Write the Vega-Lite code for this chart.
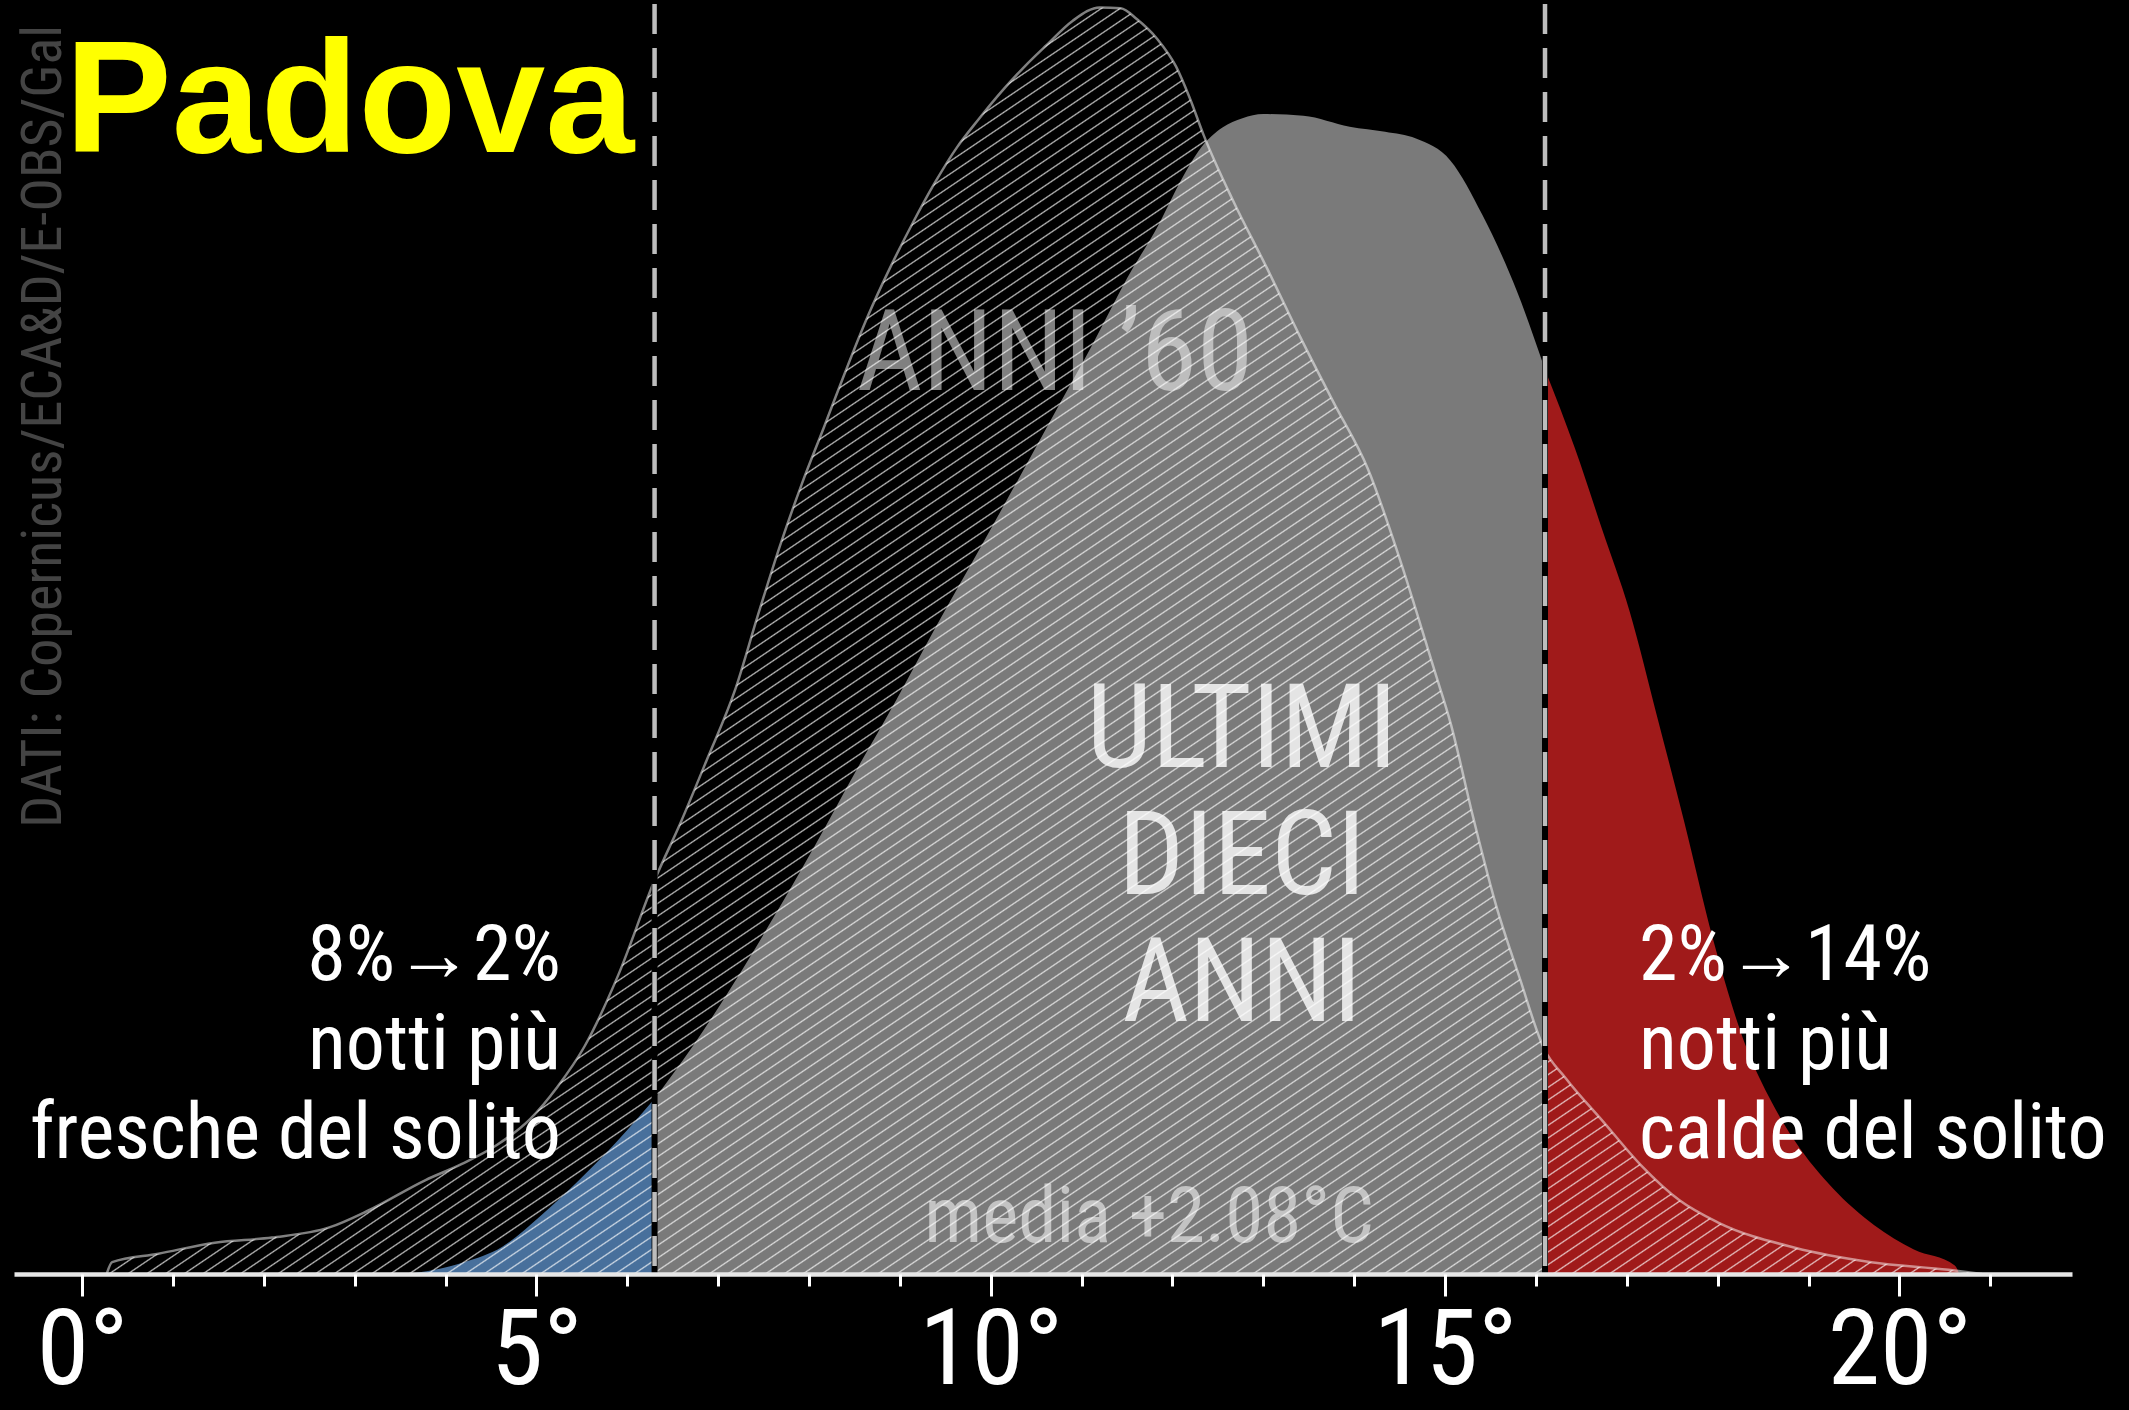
{
  "$schema": "https://vega.github.io/schema/vega-lite/v6.json",
  "width": 2058,
  "height": 1270,
  "autosize": {"type": "none"},
  "padding": {"left": 14, "top": 4, "right": 57, "bottom": 136},
  "background": "black",
  "config": {"view": {"stroke": null}},
  "datasets": {
    "anni60": [
      {"temp": 0.27, "dens": 0}, {"temp": 0.33, "dens": 0.14}, {"temp": 0.84, "dens": 0.24}, {"temp": 1.46, "dens": 0.37},
      {"temp": 2.09, "dens": 0.43}, {"temp": 2.72, "dens": 0.55}, {"temp": 3.15, "dens": 0.75}, {"temp": 3.78, "dens": 1.11},
      {"temp": 4.18, "dens": 1.30}, {"temp": 4.56, "dens": 1.52}, {"temp": 4.93, "dens": 1.83}, {"temp": 5.23, "dens": 2.21},
      {"temp": 5.53, "dens": 2.69}, {"temp": 5.90, "dens": 3.53}, {"temp": 6.30, "dens": 4.65}, {"temp": 6.59, "dens": 5.34},
      {"temp": 6.87, "dens": 6.06}, {"temp": 7.19, "dens": 6.91}, {"temp": 7.44, "dens": 7.79}, {"temp": 7.68, "dens": 8.60},
      {"temp": 7.92, "dens": 9.33}, {"temp": 8.16, "dens": 9.99}, {"temp": 8.39, "dens": 10.63}, {"temp": 8.65, "dens": 11.32},
      {"temp": 8.89, "dens": 11.88}, {"temp": 9.14, "dens": 12.41}, {"temp": 9.38, "dens": 12.88}, {"temp": 9.63, "dens": 13.31},
      {"temp": 9.86, "dens": 13.63}, {"temp": 10.13, "dens": 13.98}, {"temp": 10.38, "dens": 14.27}, {"temp": 10.61, "dens": 14.51},
      {"temp": 10.90, "dens": 14.80}, {"temp": 11.20, "dens": 14.96}, {"temp": 11.43, "dens": 14.95}, {"temp": 11.61, "dens": 14.82},
      {"temp": 11.83, "dens": 14.59}, {"temp": 12.04, "dens": 14.26}, {"temp": 12.19, "dens": 13.89}, {"temp": 12.34, "dens": 13.46},
      {"temp": 12.67, "dens": 12.67}, {"temp": 13.04, "dens": 11.88}, {"temp": 13.40, "dens": 11.08}, {"temp": 13.77, "dens": 10.30},
      {"temp": 14.15, "dens": 9.51}, {"temp": 14.50, "dens": 8.45}, {"temp": 14.88, "dens": 7.14}, {"temp": 15.06, "dens": 6.51},
      {"temp": 15.31, "dens": 5.39}, {"temp": 15.56, "dens": 4.36}, {"temp": 15.82, "dens": 3.50}, {"temp": 16.09, "dens": 2.66},
      {"temp": 16.33, "dens": 2.31}, {"temp": 16.74, "dens": 1.80}, {"temp": 17.16, "dens": 1.28}, {"temp": 17.58, "dens": 0.87},
      {"temp": 18.00, "dens": 0.61}, {"temp": 18.85, "dens": 0.31}, {"temp": 19.69, "dens": 0.14}, {"temp": 20.54, "dens": 0.05},
      {"temp": 20.91, "dens": 0}
    ],
    "recenti": [
      {"parte": "fresche", "temp": 3.56, "dens": 0}, {"parte": "fresche", "temp": 3.88, "dens": 0.05},
      {"parte": "fresche", "temp": 4.20, "dens": 0.14}, {"parte": "fresche", "temp": 4.62, "dens": 0.32},
      {"parte": "fresche", "temp": 5.05, "dens": 0.69}, {"parte": "fresche", "temp": 5.47, "dens": 1.11},
      {"parte": "fresche", "temp": 5.89, "dens": 1.57}, {"parte": "fresche", "temp": 6.30, "dens": 2.07},
      {"parte": "norma", "temp": 6.30, "dens": 2.07}, {"parte": "norma", "temp": 6.72, "dens": 2.69},
      {"parte": "norma", "temp": 7.17, "dens": 3.43}, {"parte": "norma", "temp": 7.62, "dens": 4.23},
      {"parte": "norma", "temp": 8.07, "dens": 5.07}, {"parte": "norma", "temp": 8.51, "dens": 5.93},
      {"parte": "norma", "temp": 8.96, "dens": 6.78}, {"parte": "norma", "temp": 9.41, "dens": 7.67},
      {"parte": "norma", "temp": 9.86, "dens": 8.53}, {"parte": "norma", "temp": 10.31, "dens": 9.40},
      {"parte": "norma", "temp": 10.75, "dens": 10.26}, {"parte": "norma", "temp": 11.13, "dens": 11.00},
      {"parte": "norma", "temp": 11.50, "dens": 11.76}, {"parte": "norma", "temp": 11.85, "dens": 12.40},
      {"parte": "norma", "temp": 12.10, "dens": 12.93}, {"parte": "norma", "temp": 12.32, "dens": 13.31},
      {"parte": "norma", "temp": 12.55, "dens": 13.54}, {"parte": "norma", "temp": 12.77, "dens": 13.65},
      {"parte": "norma", "temp": 13.00, "dens": 13.70}, {"parte": "norma", "temp": 13.44, "dens": 13.68},
      {"parte": "norma", "temp": 13.95, "dens": 13.55}, {"parte": "norma", "temp": 14.34, "dens": 13.49},
      {"parte": "norma", "temp": 14.68, "dens": 13.41}, {"parte": "norma", "temp": 15.06, "dens": 13.15},
      {"parte": "norma", "temp": 15.41, "dens": 12.51}, {"parte": "norma", "temp": 15.79, "dens": 11.61},
      {"parte": "norma", "temp": 16.10, "dens": 10.68},
      {"parte": "calde", "temp": 16.10, "dens": 10.68}, {"parte": "calde", "temp": 16.43, "dens": 9.75},
      {"parte": "calde", "temp": 16.73, "dens": 8.79}, {"parte": "calde", "temp": 17.03, "dens": 7.83},
      {"parte": "calde", "temp": 17.33, "dens": 6.60}, {"parte": "calde", "temp": 17.63, "dens": 5.35},
      {"parte": "calde", "temp": 17.95, "dens": 3.95}, {"parte": "calde", "temp": 18.30, "dens": 2.72},
      {"parte": "calde", "temp": 18.60, "dens": 2.02}, {"parte": "calde", "temp": 18.85, "dens": 1.57},
      {"parte": "calde", "temp": 19.27, "dens": 1.01}, {"parte": "calde", "temp": 19.72, "dens": 0.58},
      {"parte": "calde", "temp": 20.16, "dens": 0.29}, {"parte": "calde", "temp": 20.61, "dens": 0.10},
      {"parte": "calde", "temp": 20.66, "dens": 0}
    ],
    "soglie": [{"temp": 6.3}, {"temp": 16.1}]
  },
  "layer": [
    {
      "data": {"name": "recenti"},
      "mark": {"type": "area", "interpolate": "monotone"},
      "encoding": {
        "x": {
          "field": "temp", "type": "quantitative",
          "scale": {"domain": [-0.75, 21.9], "nice": false, "zero": false},
          "axis": {
            "orient": "bottom", "values": [0, 5, 10, 15, 20], "labelExpr": "datum.value + '°'",
            "tickSize": 22, "tickWidth": 3, "tickColor": "white",
            "domain": true, "domainColor": "#e6e6e6", "domainWidth": 4.5,
            "labelFont": "Roboto Condensed, Roboto", "labelFontSize": 106, "labelColor": "white",
            "labelPadding": 3, "labelFlush": false, "labelOverlap": false,
            "grid": false, "title": null, "zindex": 1
          }
        },
        "y": {"field": "dens", "type": "quantitative", "stack": null, "scale": {"domain": [0, 15], "nice": false}, "axis": null},
        "color": {
          "field": "parte", "type": "nominal",
          "scale": {"domain": ["fresche", "norma", "calde"], "range": ["#48709c", "#7a7a7a", "#a01a1a"]},
          "legend": null
        }
      }
    },
    {
      "data": {"name": "anni60"},
      "mark": {
        "type": "area", "interpolate": "monotone",
        "color": {
          "gradient": "linear", "x1": 0, "y1": 0, "x2": 1, "y2": 1,
          "stops": [
{"offset":0,"color":"#fff0"},{"offset":0.0006,"color":"#fffb"},{"offset":0.0012,"color":"#fff0"},
{"offset":0.005,"color":"#fff0"},{"offset":0.0056,"color":"#fffb"},{"offset":0.0062,"color":"#fff0"},
{"offset":0.01,"color":"#fff0"},{"offset":0.0106,"color":"#fffb"},{"offset":0.0112,"color":"#fff0"},
{"offset":0.015,"color":"#fff0"},{"offset":0.0156,"color":"#fffb"},{"offset":0.0162,"color":"#fff0"},
{"offset":0.02,"color":"#fff0"},{"offset":0.0206,"color":"#fffb"},{"offset":0.0212,"color":"#fff0"},
{"offset":0.025,"color":"#fff0"},{"offset":0.0256,"color":"#fffb"},{"offset":0.0262,"color":"#fff0"},
{"offset":0.03,"color":"#fff0"},{"offset":0.0306,"color":"#fffb"},{"offset":0.0312,"color":"#fff0"},
{"offset":0.035,"color":"#fff0"},{"offset":0.0356,"color":"#fffb"},{"offset":0.0362,"color":"#fff0"},
{"offset":0.04,"color":"#fff0"},{"offset":0.0406,"color":"#fffb"},{"offset":0.0412,"color":"#fff0"},
{"offset":0.045,"color":"#fff0"},{"offset":0.0456,"color":"#fffb"},{"offset":0.0462,"color":"#fff0"},
{"offset":0.05,"color":"#fff0"},{"offset":0.0506,"color":"#fffb"},{"offset":0.0512,"color":"#fff0"},
{"offset":0.055,"color":"#fff0"},{"offset":0.0556,"color":"#fffb"},{"offset":0.0562,"color":"#fff0"},
{"offset":0.06,"color":"#fff0"},{"offset":0.0606,"color":"#fffb"},{"offset":0.0612,"color":"#fff0"},
{"offset":0.065,"color":"#fff0"},{"offset":0.0656,"color":"#fffb"},{"offset":0.0662,"color":"#fff0"},
{"offset":0.07,"color":"#fff0"},{"offset":0.0706,"color":"#fffb"},{"offset":0.0712,"color":"#fff0"},
{"offset":0.075,"color":"#fff0"},{"offset":0.0756,"color":"#fffb"},{"offset":0.0762,"color":"#fff0"},
{"offset":0.08,"color":"#fff0"},{"offset":0.0806,"color":"#fffb"},{"offset":0.0812,"color":"#fff0"},
{"offset":0.085,"color":"#fff0"},{"offset":0.0856,"color":"#fffb"},{"offset":0.0862,"color":"#fff0"},
{"offset":0.09,"color":"#fff0"},{"offset":0.0906,"color":"#fffb"},{"offset":0.0912,"color":"#fff0"},
{"offset":0.095,"color":"#fff0"},{"offset":0.0956,"color":"#fffb"},{"offset":0.0962,"color":"#fff0"},
{"offset":0.1,"color":"#fff0"},{"offset":0.1006,"color":"#fffb"},{"offset":0.1012,"color":"#fff0"},
{"offset":0.105,"color":"#fff0"},{"offset":0.1056,"color":"#fffb"},{"offset":0.1062,"color":"#fff0"},
{"offset":0.11,"color":"#fff0"},{"offset":0.1106,"color":"#fffb"},{"offset":0.1112,"color":"#fff0"},
{"offset":0.115,"color":"#fff0"},{"offset":0.1156,"color":"#fffb"},{"offset":0.1162,"color":"#fff0"},
{"offset":0.12,"color":"#fff0"},{"offset":0.1206,"color":"#fffb"},{"offset":0.1212,"color":"#fff0"},
{"offset":0.125,"color":"#fff0"},{"offset":0.1256,"color":"#fffb"},{"offset":0.1262,"color":"#fff0"},
{"offset":0.13,"color":"#fff0"},{"offset":0.1306,"color":"#fffb"},{"offset":0.1312,"color":"#fff0"},
{"offset":0.135,"color":"#fff0"},{"offset":0.1356,"color":"#fffb"},{"offset":0.1362,"color":"#fff0"},
{"offset":0.14,"color":"#fff0"},{"offset":0.1406,"color":"#fffb"},{"offset":0.1412,"color":"#fff0"},
{"offset":0.145,"color":"#fff0"},{"offset":0.1456,"color":"#fffb"},{"offset":0.1462,"color":"#fff0"},
{"offset":0.15,"color":"#fff0"},{"offset":0.1506,"color":"#fffb"},{"offset":0.1512,"color":"#fff0"},
{"offset":0.155,"color":"#fff0"},{"offset":0.1556,"color":"#fffb"},{"offset":0.1562,"color":"#fff0"},
{"offset":0.16,"color":"#fff0"},{"offset":0.1606,"color":"#fffb"},{"offset":0.1612,"color":"#fff0"},
{"offset":0.165,"color":"#fff0"},{"offset":0.1656,"color":"#fffb"},{"offset":0.1662,"color":"#fff0"},
{"offset":0.17,"color":"#fff0"},{"offset":0.1706,"color":"#fffb"},{"offset":0.1712,"color":"#fff0"},
{"offset":0.175,"color":"#fff0"},{"offset":0.1756,"color":"#fffb"},{"offset":0.1762,"color":"#fff0"},
{"offset":0.18,"color":"#fff0"},{"offset":0.1806,"color":"#fffb"},{"offset":0.1812,"color":"#fff0"},
{"offset":0.185,"color":"#fff0"},{"offset":0.1856,"color":"#fffb"},{"offset":0.1862,"color":"#fff0"},
{"offset":0.19,"color":"#fff0"},{"offset":0.1906,"color":"#fffb"},{"offset":0.1912,"color":"#fff0"},
{"offset":0.195,"color":"#fff0"},{"offset":0.1956,"color":"#fffb"},{"offset":0.1962,"color":"#fff0"},
{"offset":0.2,"color":"#fff0"},{"offset":0.2006,"color":"#fffb"},{"offset":0.2012,"color":"#fff0"},
{"offset":0.205,"color":"#fff0"},{"offset":0.2056,"color":"#fffb"},{"offset":0.2062,"color":"#fff0"},
{"offset":0.21,"color":"#fff0"},{"offset":0.2106,"color":"#fffb"},{"offset":0.2112,"color":"#fff0"},
{"offset":0.215,"color":"#fff0"},{"offset":0.2156,"color":"#fffb"},{"offset":0.2162,"color":"#fff0"},
{"offset":0.22,"color":"#fff0"},{"offset":0.2206,"color":"#fffb"},{"offset":0.2212,"color":"#fff0"},
{"offset":0.225,"color":"#fff0"},{"offset":0.2256,"color":"#fffb"},{"offset":0.2262,"color":"#fff0"},
{"offset":0.23,"color":"#fff0"},{"offset":0.2306,"color":"#fffb"},{"offset":0.2312,"color":"#fff0"},
{"offset":0.235,"color":"#fff0"},{"offset":0.2356,"color":"#fffb"},{"offset":0.2362,"color":"#fff0"},
{"offset":0.24,"color":"#fff0"},{"offset":0.2406,"color":"#fffb"},{"offset":0.2412,"color":"#fff0"},
{"offset":0.245,"color":"#fff0"},{"offset":0.2456,"color":"#fffb"},{"offset":0.2462,"color":"#fff0"},
{"offset":0.25,"color":"#fff0"},{"offset":0.2506,"color":"#fffb"},{"offset":0.2512,"color":"#fff0"},
{"offset":0.255,"color":"#fff0"},{"offset":0.2556,"color":"#fffb"},{"offset":0.2562,"color":"#fff0"},
{"offset":0.26,"color":"#fff0"},{"offset":0.2606,"color":"#fffb"},{"offset":0.2612,"color":"#fff0"},
{"offset":0.265,"color":"#fff0"},{"offset":0.2656,"color":"#fffb"},{"offset":0.2662,"color":"#fff0"},
{"offset":0.27,"color":"#fff0"},{"offset":0.2706,"color":"#fffb"},{"offset":0.2712,"color":"#fff0"},
{"offset":0.275,"color":"#fff0"},{"offset":0.2756,"color":"#fffb"},{"offset":0.2762,"color":"#fff0"},
{"offset":0.28,"color":"#fff0"},{"offset":0.2806,"color":"#fffb"},{"offset":0.2812,"color":"#fff0"},
{"offset":0.285,"color":"#fff0"},{"offset":0.2856,"color":"#fffb"},{"offset":0.2862,"color":"#fff0"},
{"offset":0.29,"color":"#fff0"},{"offset":0.2906,"color":"#fffb"},{"offset":0.2912,"color":"#fff0"},
{"offset":0.295,"color":"#fff0"},{"offset":0.2956,"color":"#fffb"},{"offset":0.2962,"color":"#fff0"},
{"offset":0.3,"color":"#fff0"},{"offset":0.3006,"color":"#fffb"},{"offset":0.3012,"color":"#fff0"},
{"offset":0.305,"color":"#fff0"},{"offset":0.3056,"color":"#fffb"},{"offset":0.3062,"color":"#fff0"},
{"offset":0.31,"color":"#fff0"},{"offset":0.3106,"color":"#fffb"},{"offset":0.3112,"color":"#fff0"},
{"offset":0.315,"color":"#fff0"},{"offset":0.3156,"color":"#fffb"},{"offset":0.3162,"color":"#fff0"},
{"offset":0.32,"color":"#fff0"},{"offset":0.3206,"color":"#fffb"},{"offset":0.3212,"color":"#fff0"},
{"offset":0.325,"color":"#fff0"},{"offset":0.3256,"color":"#fffb"},{"offset":0.3262,"color":"#fff0"},
{"offset":0.33,"color":"#fff0"},{"offset":0.3306,"color":"#fffb"},{"offset":0.3312,"color":"#fff0"},
{"offset":0.335,"color":"#fff0"},{"offset":0.3356,"color":"#fffb"},{"offset":0.3362,"color":"#fff0"},
{"offset":0.34,"color":"#fff0"},{"offset":0.3406,"color":"#fffb"},{"offset":0.3412,"color":"#fff0"},
{"offset":0.345,"color":"#fff0"},{"offset":0.3456,"color":"#fffb"},{"offset":0.3462,"color":"#fff0"},
{"offset":0.35,"color":"#fff0"},{"offset":0.3506,"color":"#fffb"},{"offset":0.3512,"color":"#fff0"},
{"offset":0.355,"color":"#fff0"},{"offset":0.3556,"color":"#fffb"},{"offset":0.3562,"color":"#fff0"},
{"offset":0.36,"color":"#fff0"},{"offset":0.3606,"color":"#fffb"},{"offset":0.3612,"color":"#fff0"},
{"offset":0.365,"color":"#fff0"},{"offset":0.3656,"color":"#fffb"},{"offset":0.3662,"color":"#fff0"},
{"offset":0.37,"color":"#fff0"},{"offset":0.3706,"color":"#fffb"},{"offset":0.3712,"color":"#fff0"},
{"offset":0.375,"color":"#fff0"},{"offset":0.3756,"color":"#fffb"},{"offset":0.3762,"color":"#fff0"},
{"offset":0.38,"color":"#fff0"},{"offset":0.3806,"color":"#fffb"},{"offset":0.3812,"color":"#fff0"},
{"offset":0.385,"color":"#fff0"},{"offset":0.3856,"color":"#fffb"},{"offset":0.3862,"color":"#fff0"},
{"offset":0.39,"color":"#fff0"},{"offset":0.3906,"color":"#fffb"},{"offset":0.3912,"color":"#fff0"},
{"offset":0.395,"color":"#fff0"},{"offset":0.3956,"color":"#fffb"},{"offset":0.3962,"color":"#fff0"},
{"offset":0.4,"color":"#fff0"},{"offset":0.4006,"color":"#fffb"},{"offset":0.4012,"color":"#fff0"},
{"offset":0.405,"color":"#fff0"},{"offset":0.4056,"color":"#fffb"},{"offset":0.4062,"color":"#fff0"},
{"offset":0.41,"color":"#fff0"},{"offset":0.4106,"color":"#fffb"},{"offset":0.4112,"color":"#fff0"},
{"offset":0.415,"color":"#fff0"},{"offset":0.4156,"color":"#fffb"},{"offset":0.4162,"color":"#fff0"},
{"offset":0.42,"color":"#fff0"},{"offset":0.4206,"color":"#fffb"},{"offset":0.4212,"color":"#fff0"},
{"offset":0.425,"color":"#fff0"},{"offset":0.4256,"color":"#fffb"},{"offset":0.4262,"color":"#fff0"},
{"offset":0.43,"color":"#fff0"},{"offset":0.4306,"color":"#fffb"},{"offset":0.4312,"color":"#fff0"},
{"offset":0.435,"color":"#fff0"},{"offset":0.4356,"color":"#fffb"},{"offset":0.4362,"color":"#fff0"},
{"offset":0.44,"color":"#fff0"},{"offset":0.4406,"color":"#fffb"},{"offset":0.4412,"color":"#fff0"},
{"offset":0.445,"color":"#fff0"},{"offset":0.4456,"color":"#fffb"},{"offset":0.4462,"color":"#fff0"},
{"offset":0.45,"color":"#fff0"},{"offset":0.4506,"color":"#fffb"},{"offset":0.4512,"color":"#fff0"},
{"offset":0.455,"color":"#fff0"},{"offset":0.4556,"color":"#fffb"},{"offset":0.4562,"color":"#fff0"},
{"offset":0.46,"color":"#fff0"},{"offset":0.4606,"color":"#fffb"},{"offset":0.4612,"color":"#fff0"},
{"offset":0.465,"color":"#fff0"},{"offset":0.4656,"color":"#fffb"},{"offset":0.4662,"color":"#fff0"},
{"offset":0.47,"color":"#fff0"},{"offset":0.4706,"color":"#fffb"},{"offset":0.4712,"color":"#fff0"},
{"offset":0.475,"color":"#fff0"},{"offset":0.4756,"color":"#fffb"},{"offset":0.4762,"color":"#fff0"},
{"offset":0.48,"color":"#fff0"},{"offset":0.4806,"color":"#fffb"},{"offset":0.4812,"color":"#fff0"},
{"offset":0.485,"color":"#fff0"},{"offset":0.4856,"color":"#fffb"},{"offset":0.4862,"color":"#fff0"},
{"offset":0.49,"color":"#fff0"},{"offset":0.4906,"color":"#fffb"},{"offset":0.4912,"color":"#fff0"},
{"offset":0.495,"color":"#fff0"},{"offset":0.4956,"color":"#fffb"},{"offset":0.4962,"color":"#fff0"},
{"offset":0.5,"color":"#fff0"},{"offset":0.5006,"color":"#fffb"},{"offset":0.5012,"color":"#fff0"},
{"offset":0.505,"color":"#fff0"},{"offset":0.5056,"color":"#fffb"},{"offset":0.5062,"color":"#fff0"},
{"offset":0.51,"color":"#fff0"},{"offset":0.5106,"color":"#fffb"},{"offset":0.5112,"color":"#fff0"},
{"offset":0.515,"color":"#fff0"},{"offset":0.5156,"color":"#fffb"},{"offset":0.5162,"color":"#fff0"},
{"offset":0.52,"color":"#fff0"},{"offset":0.5206,"color":"#fffb"},{"offset":0.5212,"color":"#fff0"},
{"offset":0.525,"color":"#fff0"},{"offset":0.5256,"color":"#fffb"},{"offset":0.5262,"color":"#fff0"},
{"offset":0.53,"color":"#fff0"},{"offset":0.5306,"color":"#fffb"},{"offset":0.5312,"color":"#fff0"},
{"offset":0.535,"color":"#fff0"},{"offset":0.5356,"color":"#fffb"},{"offset":0.5362,"color":"#fff0"},
{"offset":0.54,"color":"#fff0"},{"offset":0.5406,"color":"#fffb"},{"offset":0.5412,"color":"#fff0"},
{"offset":0.545,"color":"#fff0"},{"offset":0.5456,"color":"#fffb"},{"offset":0.5462,"color":"#fff0"},
{"offset":0.55,"color":"#fff0"},{"offset":0.5506,"color":"#fffb"},{"offset":0.5512,"color":"#fff0"},
{"offset":0.555,"color":"#fff0"},{"offset":0.5556,"color":"#fffb"},{"offset":0.5562,"color":"#fff0"},
{"offset":0.56,"color":"#fff0"},{"offset":0.5606,"color":"#fffb"},{"offset":0.5612,"color":"#fff0"},
{"offset":0.565,"color":"#fff0"},{"offset":0.5656,"color":"#fffb"},{"offset":0.5662,"color":"#fff0"},
{"offset":0.57,"color":"#fff0"},{"offset":0.5706,"color":"#fffb"},{"offset":0.5712,"color":"#fff0"},
{"offset":0.575,"color":"#fff0"},{"offset":0.5756,"color":"#fffb"},{"offset":0.5762,"color":"#fff0"},
{"offset":0.58,"color":"#fff0"},{"offset":0.5806,"color":"#fffb"},{"offset":0.5812,"color":"#fff0"},
{"offset":0.585,"color":"#fff0"},{"offset":0.5856,"color":"#fffb"},{"offset":0.5862,"color":"#fff0"},
{"offset":0.59,"color":"#fff0"},{"offset":0.5906,"color":"#fffb"},{"offset":0.5912,"color":"#fff0"},
{"offset":0.595,"color":"#fff0"},{"offset":0.5956,"color":"#fffb"},{"offset":0.5962,"color":"#fff0"},
{"offset":0.6,"color":"#fff0"},{"offset":0.6006,"color":"#fffb"},{"offset":0.6012,"color":"#fff0"},
{"offset":0.605,"color":"#fff0"},{"offset":0.6056,"color":"#fffb"},{"offset":0.6062,"color":"#fff0"},
{"offset":0.61,"color":"#fff0"},{"offset":0.6106,"color":"#fffb"},{"offset":0.6112,"color":"#fff0"},
{"offset":0.615,"color":"#fff0"},{"offset":0.6156,"color":"#fffb"},{"offset":0.6162,"color":"#fff0"},
{"offset":0.62,"color":"#fff0"},{"offset":0.6206,"color":"#fffb"},{"offset":0.6212,"color":"#fff0"},
{"offset":0.625,"color":"#fff0"},{"offset":0.6256,"color":"#fffb"},{"offset":0.6262,"color":"#fff0"},
{"offset":0.63,"color":"#fff0"},{"offset":0.6306,"color":"#fffb"},{"offset":0.6312,"color":"#fff0"},
{"offset":0.635,"color":"#fff0"},{"offset":0.6356,"color":"#fffb"},{"offset":0.6362,"color":"#fff0"},
{"offset":0.64,"color":"#fff0"},{"offset":0.6406,"color":"#fffb"},{"offset":0.6412,"color":"#fff0"},
{"offset":0.645,"color":"#fff0"},{"offset":0.6456,"color":"#fffb"},{"offset":0.6462,"color":"#fff0"},
{"offset":0.65,"color":"#fff0"},{"offset":0.6506,"color":"#fffb"},{"offset":0.6512,"color":"#fff0"},
{"offset":0.655,"color":"#fff0"},{"offset":0.6556,"color":"#fffb"},{"offset":0.6562,"color":"#fff0"},
{"offset":0.66,"color":"#fff0"},{"offset":0.6606,"color":"#fffb"},{"offset":0.6612,"color":"#fff0"},
{"offset":0.665,"color":"#fff0"},{"offset":0.6656,"color":"#fffb"},{"offset":0.6662,"color":"#fff0"},
{"offset":0.67,"color":"#fff0"},{"offset":0.6706,"color":"#fffb"},{"offset":0.6712,"color":"#fff0"},
{"offset":0.675,"color":"#fff0"},{"offset":0.6756,"color":"#fffb"},{"offset":0.6762,"color":"#fff0"},
{"offset":0.68,"color":"#fff0"},{"offset":0.6806,"color":"#fffb"},{"offset":0.6812,"color":"#fff0"},
{"offset":0.685,"color":"#fff0"},{"offset":0.6856,"color":"#fffb"},{"offset":0.6862,"color":"#fff0"},
{"offset":0.69,"color":"#fff0"},{"offset":0.6906,"color":"#fffb"},{"offset":0.6912,"color":"#fff0"},
{"offset":0.695,"color":"#fff0"},{"offset":0.6956,"color":"#fffb"},{"offset":0.6962,"color":"#fff0"},
{"offset":0.7,"color":"#fff0"},{"offset":0.7006,"color":"#fffb"},{"offset":0.7012,"color":"#fff0"},
{"offset":0.705,"color":"#fff0"},{"offset":0.7056,"color":"#fffb"},{"offset":0.7062,"color":"#fff0"},
{"offset":0.71,"color":"#fff0"},{"offset":0.7106,"color":"#fffb"},{"offset":0.7112,"color":"#fff0"},
{"offset":0.715,"color":"#fff0"},{"offset":0.7156,"color":"#fffb"},{"offset":0.7162,"color":"#fff0"},
{"offset":0.72,"color":"#fff0"},{"offset":0.7206,"color":"#fffb"},{"offset":0.7212,"color":"#fff0"},
{"offset":0.725,"color":"#fff0"},{"offset":0.7256,"color":"#fffb"},{"offset":0.7262,"color":"#fff0"},
{"offset":0.73,"color":"#fff0"},{"offset":0.7306,"color":"#fffb"},{"offset":0.7312,"color":"#fff0"},
{"offset":0.735,"color":"#fff0"},{"offset":0.7356,"color":"#fffb"},{"offset":0.7362,"color":"#fff0"},
{"offset":0.74,"color":"#fff0"},{"offset":0.7406,"color":"#fffb"},{"offset":0.7412,"color":"#fff0"},
{"offset":0.745,"color":"#fff0"},{"offset":0.7456,"color":"#fffb"},{"offset":0.7462,"color":"#fff0"},
{"offset":0.75,"color":"#fff0"},{"offset":0.7506,"color":"#fffb"},{"offset":0.7512,"color":"#fff0"},
{"offset":0.755,"color":"#fff0"},{"offset":0.7556,"color":"#fffb"},{"offset":0.7562,"color":"#fff0"},
{"offset":0.76,"color":"#fff0"},{"offset":0.7606,"color":"#fffb"},{"offset":0.7612,"color":"#fff0"},
{"offset":0.765,"color":"#fff0"},{"offset":0.7656,"color":"#fffb"},{"offset":0.7662,"color":"#fff0"},
{"offset":0.77,"color":"#fff0"},{"offset":0.7706,"color":"#fffb"},{"offset":0.7712,"color":"#fff0"},
{"offset":0.775,"color":"#fff0"},{"offset":0.7756,"color":"#fffb"},{"offset":0.7762,"color":"#fff0"},
{"offset":0.78,"color":"#fff0"},{"offset":0.7806,"color":"#fffb"},{"offset":0.7812,"color":"#fff0"},
{"offset":0.785,"color":"#fff0"},{"offset":0.7856,"color":"#fffb"},{"offset":0.7862,"color":"#fff0"},
{"offset":0.79,"color":"#fff0"},{"offset":0.7906,"color":"#fffb"},{"offset":0.7912,"color":"#fff0"},
{"offset":0.795,"color":"#fff0"},{"offset":0.7956,"color":"#fffb"},{"offset":0.7962,"color":"#fff0"},
{"offset":0.8,"color":"#fff0"},{"offset":0.8006,"color":"#fffb"},{"offset":0.8012,"color":"#fff0"},
{"offset":0.805,"color":"#fff0"},{"offset":0.8056,"color":"#fffb"},{"offset":0.8062,"color":"#fff0"},
{"offset":0.81,"color":"#fff0"},{"offset":0.8106,"color":"#fffb"},{"offset":0.8112,"color":"#fff0"},
{"offset":0.815,"color":"#fff0"},{"offset":0.8156,"color":"#fffb"},{"offset":0.8162,"color":"#fff0"},
{"offset":0.82,"color":"#fff0"},{"offset":0.8206,"color":"#fffb"},{"offset":0.8212,"color":"#fff0"},
{"offset":0.825,"color":"#fff0"},{"offset":0.8256,"color":"#fffb"},{"offset":0.8262,"color":"#fff0"},
{"offset":0.83,"color":"#fff0"},{"offset":0.8306,"color":"#fffb"},{"offset":0.8312,"color":"#fff0"},
{"offset":0.835,"color":"#fff0"},{"offset":0.8356,"color":"#fffb"},{"offset":0.8362,"color":"#fff0"},
{"offset":0.84,"color":"#fff0"},{"offset":0.8406,"color":"#fffb"},{"offset":0.8412,"color":"#fff0"},
{"offset":0.845,"color":"#fff0"},{"offset":0.8456,"color":"#fffb"},{"offset":0.8462,"color":"#fff0"},
{"offset":0.85,"color":"#fff0"},{"offset":0.8506,"color":"#fffb"},{"offset":0.8512,"color":"#fff0"},
{"offset":0.855,"color":"#fff0"},{"offset":0.8556,"color":"#fffb"},{"offset":0.8562,"color":"#fff0"},
{"offset":0.86,"color":"#fff0"},{"offset":0.8606,"color":"#fffb"},{"offset":0.8612,"color":"#fff0"},
{"offset":0.865,"color":"#fff0"},{"offset":0.8656,"color":"#fffb"},{"offset":0.8662,"color":"#fff0"},
{"offset":0.87,"color":"#fff0"},{"offset":0.8706,"color":"#fffb"},{"offset":0.8712,"color":"#fff0"},
{"offset":0.875,"color":"#fff0"},{"offset":0.8756,"color":"#fffb"},{"offset":0.8762,"color":"#fff0"},
{"offset":0.88,"color":"#fff0"},{"offset":0.8806,"color":"#fffb"},{"offset":0.8812,"color":"#fff0"},
{"offset":0.885,"color":"#fff0"},{"offset":0.8856,"color":"#fffb"},{"offset":0.8862,"color":"#fff0"},
{"offset":0.89,"color":"#fff0"},{"offset":0.8906,"color":"#fffb"},{"offset":0.8912,"color":"#fff0"},
{"offset":0.895,"color":"#fff0"},{"offset":0.8956,"color":"#fffb"},{"offset":0.8962,"color":"#fff0"},
{"offset":0.9,"color":"#fff0"},{"offset":0.9006,"color":"#fffb"},{"offset":0.9012,"color":"#fff0"},
{"offset":0.905,"color":"#fff0"},{"offset":0.9056,"color":"#fffb"},{"offset":0.9062,"color":"#fff0"},
{"offset":0.91,"color":"#fff0"},{"offset":0.9106,"color":"#fffb"},{"offset":0.9112,"color":"#fff0"},
{"offset":0.915,"color":"#fff0"},{"offset":0.9156,"color":"#fffb"},{"offset":0.9162,"color":"#fff0"},
{"offset":0.92,"color":"#fff0"},{"offset":0.9206,"color":"#fffb"},{"offset":0.9212,"color":"#fff0"},
{"offset":0.925,"color":"#fff0"},{"offset":0.9256,"color":"#fffb"},{"offset":0.9262,"color":"#fff0"},
{"offset":0.93,"color":"#fff0"},{"offset":0.9306,"color":"#fffb"},{"offset":0.9312,"color":"#fff0"},
{"offset":0.935,"color":"#fff0"},{"offset":0.9356,"color":"#fffb"},{"offset":0.9362,"color":"#fff0"},
{"offset":0.94,"color":"#fff0"},{"offset":0.9406,"color":"#fffb"},{"offset":0.9412,"color":"#fff0"},
{"offset":0.945,"color":"#fff0"},{"offset":0.9456,"color":"#fffb"},{"offset":0.9462,"color":"#fff0"},
{"offset":0.95,"color":"#fff0"},{"offset":0.9506,"color":"#fffb"},{"offset":0.9512,"color":"#fff0"},
{"offset":0.955,"color":"#fff0"},{"offset":0.9556,"color":"#fffb"},{"offset":0.9562,"color":"#fff0"},
{"offset":0.96,"color":"#fff0"},{"offset":0.9606,"color":"#fffb"},{"offset":0.9612,"color":"#fff0"},
{"offset":0.965,"color":"#fff0"},{"offset":0.9656,"color":"#fffb"},{"offset":0.9662,"color":"#fff0"},
{"offset":0.97,"color":"#fff0"},{"offset":0.9706,"color":"#fffb"},{"offset":0.9712,"color":"#fff0"},
{"offset":0.975,"color":"#fff0"},{"offset":0.9756,"color":"#fffb"},{"offset":0.9762,"color":"#fff0"},
{"offset":0.98,"color":"#fff0"},{"offset":0.9806,"color":"#fffb"},{"offset":0.9812,"color":"#fff0"},
{"offset":0.985,"color":"#fff0"},{"offset":0.9856,"color":"#fffb"},{"offset":0.9862,"color":"#fff0"},
{"offset":0.99,"color":"#fff0"},{"offset":0.9906,"color":"#fffb"},{"offset":0.9912,"color":"#fff0"},
{"offset":0.995,"color":"#fff0"},{"offset":0.9956,"color":"#fffb"},{"offset":0.9962,"color":"#fff0"},
{"offset":1,"color":"#fff0"}
          ]
        }
      },
      "encoding": {
        "x": {
          "field": "temp", "type": "quantitative",
          "axis": {
            "orient": "bottom", "values": [0, 1, 2, 3, 4, 5, 6, 7, 8, 9, 10, 11, 12, 13, 14, 15, 16, 17, 18, 19, 20, 21],
            "labels": false, "tickSize": 12, "tickWidth": 3, "tickColor": "white",
            "domain": false, "grid": false, "title": null, "zindex": 1
          }
        },
        "y": {"field": "dens", "type": "quantitative", "axis": null}
      }
    },
    {
      "data": {"name": "anni60"},
      "mark": {"type": "line", "interpolate": "monotone", "color": "white", "opacity": 0.5, "strokeWidth": 2.5},
      "encoding": {
        "x": {"field": "temp", "type": "quantitative", "axis": null},
        "y": {"field": "dens", "type": "quantitative", "axis": null}
      }
    },
    {
      "data": {"name": "soglie"},
      "mark": {"type": "rule", "color": "black", "strokeWidth": 6},
      "encoding": {"x": {"field": "temp", "type": "quantitative", "axis": null}}
    },
    {
      "data": {"name": "soglie"},
      "mark": {"type": "rule", "color": "#bdbdbd", "strokeWidth": 4.5, "strokeDash": [30, 14]},
      "encoding": {"x": {"field": "temp", "type": "quantitative", "axis": null}}
    },
    {
      "data": {"values": [{"testo": "DATI: Copernicus/ECA&D/E-OBS/Gal", "temp": -0.233, "dens": 5.27}]},
      "mark": {"type": "text", "angle": 270, "align": "left", "baseline": "alphabetic", "font": "Roboto Condensed, Roboto", "fontSize": 56, "color": "#444444"},
      "encoding": {
        "x": {"field": "temp", "type": "quantitative", "axis": null},
        "y": {"field": "dens", "type": "quantitative", "axis": null},
        "text": {"field": "testo"}
      }
    },
    {
      "data": {"values": [{"testo": "Padova", "temp": -0.189, "dens": 13.252}]},
      "mark": {"type": "text", "align": "left", "baseline": "alphabetic", "font": "Liberation Sans", "fontWeight": "bold", "fontSize": 160, "color": "#ffff00"},
      "encoding": {
        "x": {"field": "temp", "type": "quantitative", "axis": null},
        "y": {"field": "dens", "type": "quantitative", "axis": null},
        "text": {"field": "testo"}
      }
    },
    {
      "data": {"values": [{"testo": ["8%→2%", "notti più", "fresche del solito"], "temp": 5.27, "dens": 3.473}]},
      "mark": {"type": "text", "align": "right", "baseline": "alphabetic", "font": "Roboto Condensed, Roboto", "fontSize": 78, "lineHeight": 89, "color": "white"},
      "encoding": {
        "x": {"field": "temp", "type": "quantitative", "axis": null},
        "y": {"field": "dens", "type": "quantitative", "axis": null},
        "text": {"field": "testo"}
      }
    },
    {
      "data": {"values": [{"testo": ["2%→14%", "notti più", "calde del solito"], "temp": 17.135, "dens": 3.473}]},
      "mark": {"type": "text", "align": "left", "baseline": "alphabetic", "font": "Roboto Condensed, Roboto", "fontSize": 78, "lineHeight": 89, "color": "white"},
      "encoding": {
        "x": {"field": "temp", "type": "quantitative", "axis": null},
        "y": {"field": "dens", "type": "quantitative", "axis": null},
        "text": {"field": "testo"}
      }
    },
    {
      "data": {"values": [{"testo": ["ULTIMI", "DIECI", "ANNI"], "temp": 12.765, "dens": 5.988}]},
      "mark": {"type": "text", "align": "center", "baseline": "alphabetic", "font": "Roboto Condensed, Roboto", "fontSize": 116, "lineHeight": 127, "color": "white", "opacity": 0.8},
      "encoding": {
        "x": {"field": "temp", "type": "quantitative", "axis": null},
        "y": {"field": "dens", "type": "quantitative", "axis": null},
        "text": {"field": "testo"}
      }
    },
    {
      "data": {"values": [{"testo": "ANNI ’60", "temp": 10.707, "dens": 10.441}]},
      "mark": {"type": "text", "align": "center", "baseline": "alphabetic", "font": "Roboto Condensed, Roboto", "fontSize": 114, "color": "white", "opacity": 0.5},
      "encoding": {
        "x": {"field": "temp", "type": "quantitative", "axis": null},
        "y": {"field": "dens", "type": "quantitative", "axis": null},
        "text": {"field": "testo"}
      }
    },
    {
      "data": {"values": [{"testo": "media +2.08°C", "temp": 11.742, "dens": 0.379}]},
      "mark": {"type": "text", "align": "center", "baseline": "alphabetic", "font": "Roboto Condensed, Roboto", "fontSize": 77, "color": "white", "opacity": 0.55},
      "encoding": {
        "x": {"field": "temp", "type": "quantitative", "axis": null},
        "y": {"field": "dens", "type": "quantitative", "axis": null},
        "text": {"field": "testo"}
      }
    }
  ],
  "resolve": {"axis": {"x": "independent"}}
}
